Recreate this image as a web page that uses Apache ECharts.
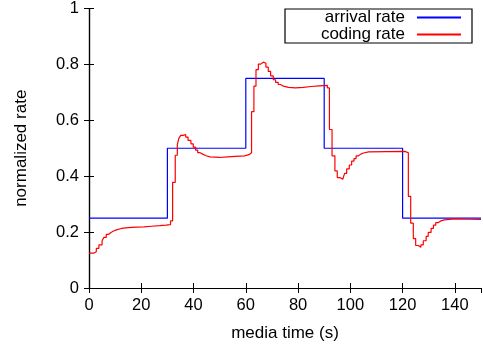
<!DOCTYPE html>
<html>
<head>
<meta charset="utf-8">
<script src="https://cdn.jsdelivr.net/npm/echarts@6/dist/echarts.min.js"></script>
<style>
  html, body { margin: 0; padding: 0; background: #fff; }
  #chart { width: 483px; height: 347px; }
</style>
</head>
<body>
<div id="chart"></div>
<script>
// Arrival rate: piecewise constant, value held from each time until the next one
const arrivalTimes = [0, 30, 60, 90, 120, 150];
const arrivalRates = [0.25, 0.5, 0.75, 0.5, 0.25, 0.25];

// Coding rate: times (s) at which the encoder rate changes, and the new rate
const codingTimes = [
  0, 1.9, 2.8, 3.8, 5.0, 5.7, 6.6, 7.5, 8.3, 9.2, 10.5, 12.4, 15, 18, 21, 24, 27, 29.5,
  31.2, 32.0, 33.0, 33.8, 34.4, 35.1, 36.1, 37.0, 37.9, 39.0, 39.9, 40.8, 41.6, 42.5,
  43.5, 44.8, 46.3, 50, 53, 56, 59.5, 61.2,
  62.2, 63.1, 63.9, 64.8, 65.7, 66.7, 67.7, 68.6, 69.5, 70.5, 71.4, 72.4, 73.3, 74.4,
  76.3, 79, 82, 85, 88, 91.2,
  92.0, 93.0, 94.1, 95.0, 96.0, 97.1, 97.8, 98.6, 99.6, 100.5, 101.4, 102.2, 103.1,
  104.0, 105.0, 107.0, 120.9,
  122.2, 123.1, 124.1, 125.0, 126.0, 127.0, 127.9, 129.0, 129.8, 130.9, 131.8, 132.7,
  133.7, 134.6, 136.0, 140, 145, 150
];
const codingRates = [
  0.125, 0.130, 0.142, 0.154, 0.169, 0.181, 0.192, 0.198, 0.203, 0.208, 0.213, 0.216, 0.218, 0.219, 0.221, 0.223, 0.225, 0.227,
  0.240, 0.378, 0.475, 0.513, 0.536, 0.546, 0.549, 0.540, 0.528, 0.516, 0.504, 0.493, 0.484, 0.479,
  0.473, 0.469, 0.467, 0.469, 0.471, 0.473, 0.477, 0.484,
  0.631, 0.722, 0.781, 0.801, 0.808, 0.804, 0.790, 0.775, 0.759, 0.745, 0.736, 0.728, 0.722, 0.718,
  0.716, 0.718, 0.721, 0.723, 0.725, 0.716,
  0.567, 0.473, 0.419, 0.395, 0.389, 0.395, 0.410, 0.426, 0.440, 0.454, 0.463, 0.473, 0.479,
  0.483, 0.487, 0.489, 0.484,
  0.328, 0.232, 0.177, 0.152, 0.146, 0.154, 0.169, 0.185, 0.199, 0.213, 0.225, 0.234,
  0.240, 0.244, 0.247, 0.246, 0.245, 0.245
];

const xTickInterval = 20;
const yTickInterval = 0.2;

const pairs = (xs, ys) => xs.map((x, i) => [x, ys[i]]);

const FONT = 'Liberation Sans, Arial, sans-serif';
const axisCommon = {
  axisLine: { show: true, lineStyle: { color: '#000', width: 1.2 } },
  axisTick: { show: true, inside: true, length: 5, lineStyle: { color: '#000', width: 1 } },
  splitLine: { show: false }
};

const chart = echarts.init(document.getElementById('chart'), null, { renderer: 'canvas' });
chart.setOption({
  animation: false,
  backgroundColor: '#fff',
  textStyle: { fontFamily: FONT },
  grid: { left: 89, top: 5, width: 392, height: 283, containLabel: false },
  legend: {
    orient: 'vertical',
    align: 'right',
    right: 11,
    top: 9,
    padding: [0, 10, 0, 2],
    itemGap: 0,
    itemWidth: 44,
    itemHeight: 17,
    borderColor: '#000',
    borderWidth: 1.2,
    borderRadius: 0,
    backgroundColor: '#fff',
    itemStyle: { opacity: 0 },
    textStyle: { fontFamily: FONT, fontSize: 17, color: '#000', width: 118, align: 'right', lineHeight: 17, padding: [0, 7, 0, 0] },
    data: ['arrival rate', 'coding rate']
  },
  xAxis: [
    Object.assign({
      type: 'value', min: 0, max: 150, interval: xTickInterval, position: 'bottom',
      name: 'media time (s)', nameLocation: 'middle', nameGap: 37,
      nameTextStyle: { fontFamily: FONT, fontSize: 17, color: '#000' },
      axisLabel: { show: true, margin: 9, fontFamily: FONT, fontSize: 16.5, color: '#000', showMaxLabel: false }
    }, axisCommon),
    Object.assign({
      type: 'value', min: 0, max: 150, interval: xTickInterval, position: 'top',
      axisLabel: { show: false }
    }, axisCommon)
  ],
  yAxis: [
    Object.assign({
      type: 'value', min: 0, max: 1, interval: yTickInterval, position: 'left',
      name: 'normalized rate', nameLocation: 'middle', nameGap: 59, nameRotate: 90,
      nameTextStyle: { fontFamily: FONT, fontSize: 17, color: '#000' },
      axisLabel: { show: true, margin: 10, fontFamily: FONT, fontSize: 16.5, color: '#000' }
    }, axisCommon),
    Object.assign({
      type: 'value', min: 0, max: 1, interval: yTickInterval, position: 'right',
      axisLabel: { show: false }
    }, axisCommon)
  ],
  series: [
    {
      name: 'arrival rate', type: 'line', step: 'end',
      xAxisIndex: 0, yAxisIndex: 0,
      data: pairs(arrivalTimes, arrivalRates),
      showSymbol: false, symbol: 'none',
      lineStyle: { color: '#0000ff', width: 1.2 },
      itemStyle: { color: '#0000ff' }
    },
    {
      name: 'coding rate', type: 'line', step: 'end',
      xAxisIndex: 0, yAxisIndex: 0,
      data: pairs(codingTimes, codingRates),
      showSymbol: false, symbol: 'none',
      lineStyle: { color: '#ff0000', width: 1.2 },
      itemStyle: { color: '#ff0000' }
    }
  ]
});
</script>
</body>
</html>
